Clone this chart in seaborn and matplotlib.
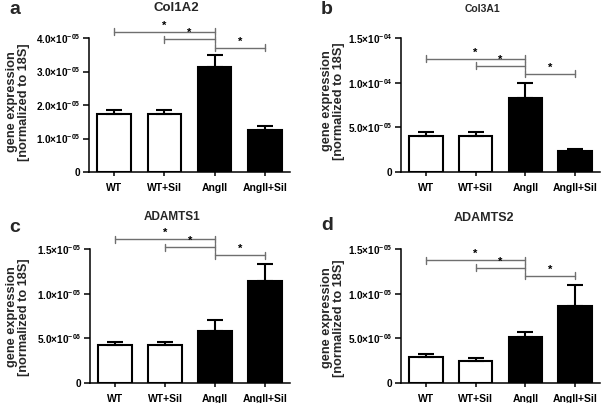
import numpy as np
import pandas as pd
import matplotlib
matplotlib.use("Agg")
import matplotlib.pyplot as plt
from matplotlib.ticker import FuncFormatter
import seaborn as sns

# ---------------- data ----------------
categories = ["WT", "WT+Sil", "AngII", "AngII+Sil"]
bar_colors = ["white", "white", "black", "black"]

col1a2_mean = [1.72e-5, 1.72e-5, 3.13e-5, 1.25e-5]
col1a2_sem = [0.13e-5, 0.12e-5, 0.36e-5, 0.12e-5]
col3a1_mean = [4.05e-5, 4.05e-5, 8.30e-5, 2.35e-5]
col3a1_sem = [0.45e-5, 0.45e-5, 1.68e-5, 0.22e-5]
adamts1_mean = [4.25e-6, 4.25e-6, 5.86e-6, 1.143e-5]
adamts1_sem = [0.35e-6, 0.35e-6, 1.17e-6, 1.92e-6]
adamts2_mean = [2.86e-6, 2.41e-6, 5.19e-6, 8.57e-6]
adamts2_sem = [0.38e-6, 0.37e-6, 0.49e-6, 2.43e-6]

sig_pairs = [(0, 2), (1, 2), (2, 3)]
col1a2_sig = [4.19e-5, 3.96e-5, 3.71e-5]
col3a1_sig = [1.27e-4, 1.19e-4, 1.10e-4]
adamts1_sig = [1.61e-5, 1.52e-5, 1.43e-5]
adamts2_sig = [1.375e-5, 1.29e-5, 1.20e-5]

col1a2_ticks = [0, 1e-5, 2e-5, 3e-5, 4e-5]
col3a1_ticks = [0, 5e-5, 1e-4, 1.5e-4]
adamts_ticks = [0, 5e-6, 1e-5, 1.5e-5]

panels = [
    dict(letter="a", title="Col1A2", tsize=9.5, mean=col1a2_mean, sem=col1a2_sem,
         sig=col1a2_sig, ticks=col1a2_ticks, box=(89, 290, 38, 172),
         title_xy=(176, 8), letter_xy=(15, 10), ylab_xy=(18, 102)),
    dict(letter="b", title="Col3A1", tsize=7.5, mean=col3a1_mean, sem=col3a1_sem,
         sig=col3a1_sig, ticks=col3a1_ticks, box=(401, 600, 38, 172),
         title_xy=(482, 9), letter_xy=(327, 10), ylab_xy=(333, 101)),
    dict(letter="c", title="ADAMTS1", tsize=8.5, mean=adamts1_mean, sem=adamts1_sem,
         sig=adamts1_sig, ticks=adamts_ticks, box=(90, 290, 249, 383),
         title_xy=(172, 217), letter_xy=(15, 227), ylab_xy=(18, 317)),
    dict(letter="d", title="ADAMTS2", tsize=9.0, mean=adamts2_mean, sem=adamts2_sem,
         sig=adamts2_sig, ticks=adamts_ticks, box=(401, 600, 249, 383),
         title_xy=(484, 218), letter_xy=(327, 226), ylab_xy=(333, 318)),
]

# ---------------- style ----------------
sns.set_style("ticks")
plt.rcParams["font.family"] = ["Liberation Sans", "DejaVu Sans"]
plt.rcParams["font.weight"] = "bold"
plt.rcParams["mathtext.fontset"] = "custom"
plt.rcParams["mathtext.rm"] = "Liberation Sans:bold"
plt.rcParams["mathtext.default"] = "rm"

W, H = 605, 403
fig = plt.figure(figsize=(W / 100, H / 100), dpi=100)


def sci_fmt(v, pos):
    if v == 0:
        return "0"
    e = int(np.floor(np.log10(abs(v)) + 1e-9))
    m = v / 10 ** e
    return f"{m:.1f}×10$^{{-{abs(e):02d}}}$"


gray = "#6f6f6f"
for p in panels:
    x0, x1, y0, y1 = p["box"]
    ax = fig.add_axes([x0 / W, 1 - y1 / H, (x1 - x0) / W, (y1 - y0) / H])
    df = pd.DataFrame({"group": categories, "value": p["mean"]})
    sns.barplot(data=df, x="group", y="value", hue="group", order=categories,
                hue_order=categories, palette=dict(zip(categories, bar_colors)),
                edgecolor="black", linewidth=1.5, width=0.67, legend=False,
                errorbar=None, ax=ax)
    xs = np.arange(len(categories))
    ax.errorbar(xs, p["mean"], yerr=[np.zeros(len(xs)), p["sem"]], fmt="none",
                ecolor="black", elinewidth=1.5, capsize=6, capthick=1.5, zorder=1)
    ax.set_xlim(-0.5, 3.5)
    ax.set_ylim(0, p["ticks"][-1])
    ax.set_yticks(p["ticks"])
    ax.yaxis.set_major_formatter(FuncFormatter(sci_fmt))
    ax.set_xlabel("")
    ax.set_ylabel("")
    for s in ["top", "right"]:
        ax.spines[s].set_visible(False)
    for s in ["left", "bottom"]:
        ax.spines[s].set_linewidth(1.1)
        ax.spines[s].set_color("black")
    ax.tick_params(axis="y", length=4, width=1.1, pad=2, labelsize=7.2, colors="black")
    ax.tick_params(axis="x", length=3, width=1.1, pad=5, labelsize=7.5, colors="black")
    for lab in ax.get_xticklabels() + ax.get_yticklabels():
        lab.set_fontweight("bold")

    # significance brackets
    yr = p["ticks"][-1]
    cap = yr * 0.025
    for (i, j), h in zip(sig_pairs, p["sig"]):
        ax.plot([i, j], [h, h], color=gray, lw=1.0, clip_on=False)
        ax.plot([i, i], [h - cap, h + cap], color=gray, lw=1.0, clip_on=False)
        ax.plot([j, j], [h - cap, h + cap], color=gray, lw=1.0, clip_on=False)
        ax.text((i + j) / 2, h + yr * 0.008, "*", ha="center", va="bottom",
                fontsize=8, fontweight="bold", color="black", clip_on=False)

    tx, ty = p["title_xy"]
    fig.text(tx / W, 1 - ty / H, p["title"], ha="center", va="center",
             fontsize=p["tsize"], fontweight="bold")
    lx, ly = p["letter_xy"]
    fig.text(lx / W, 1 - ly / H, p["letter"], ha="center", va="center",
             fontsize=14, fontweight="bold")
    yx, yy = p["ylab_xy"]
    fig.text(yx / W, 1 - yy / H, "gene expression\n[normalized to 18S]",
             ha="center", va="center", rotation=90, fontsize=9.2,
             fontweight="bold", linespacing=1.0)

fig.savefig("out.png", dpi=100)
